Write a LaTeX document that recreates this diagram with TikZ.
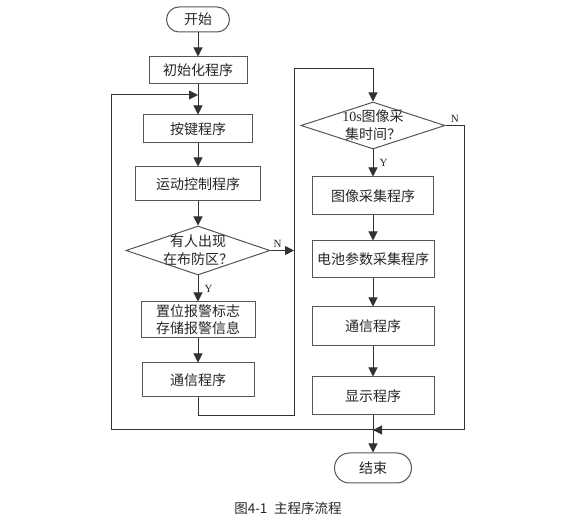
\documentclass[tikz,border=0pt]{standalone}
\usepackage{fontspec}
\setmainfont{Liberation Serif}
\newfontfamily\cjk{Noto Sans CJK SC}
\usetikzlibrary{arrows.meta,shapes.geometric}
\definecolor{boxgray}{RGB}{85,85,85}
\definecolor{linegray}{RGB}{50,50,50}

\begin{document}
\begin{tikzpicture}[x=10pt,y=10pt]
\tikzstyle{proc}=[rectangle,draw=boxgray,line width=1pt,inner sep=0pt,align=center,text=black!85,font=\cjk\fontsize{14}{17}\selectfont]
\tikzstyle{term}=[proc]
\tikzstyle{decision}=[diamond,draw=boxgray,line width=1pt,aspect=3,inner sep=-3pt,align=center,text=black!85,font=\cjk\fontsize{14}{18}\selectfont]
\tikzstyle{flow}=[-{Triangle[width=9pt,length=9pt]},line width=1pt,draw=linegray]
\tikzstyle{yn}=[font=\fontsize{11}{12}\selectfont,text=black!85,inner sep=2pt]
\useasboundingbox (0,0) rectangle (58.2,-52.9);

% left column
\node[term,minimum width=63pt,minimum height=25pt,rounded corners=12.5pt] (start) at (19.8,-1.95){开始};
\node[proc,minimum width=98pt,minimum height=27pt] (init) at (19.8,-7.05){初始化程序};
\node[proc,minimum width=109pt,minimum height=28pt] (keys) at (19.8,-12.9){按键程序};
\node[proc,minimum width=125pt,minimum height=34pt] (motion) at (19.8,-18.4){运动控制程序};
\node[decision,minimum width=144pt,minimum height=49pt] (dec_alarm) at (19.8,-25.05){有人出现\\在布防区？};
\node[proc,minimum width=114pt,minimum height=36pt] (alarm) at (19.8,-32.0){置位报警标志\\存储报警信息};
\node[proc,minimum width=112pt,minimum height=34pt] (comm_left) at (19.8,-38.0){通信程序};

% right column
\node[decision,minimum width=144pt,minimum height=47pt] (dec_image) at (37.3,-12.55){{\rmfamily 10s}图像采\\集时间？};
\node[proc,minimum width=121pt,minimum height=38pt] (image) at (37.3,-19.6){图像采集程序};
\node[proc,minimum width=122pt,minimum height=37pt] (battery) at (37.3,-25.95){电池参数采集程序};
\node[proc,minimum width=122pt,minimum height=39pt] (comm_right) at (37.3,-32.65){通信程序};
\node[proc,minimum width=122pt,minimum height=38pt] (display) at (37.3,-39.6){显示程序};
\node[term,minimum width=77pt,minimum height=30pt,rounded corners=15pt] (finish) at (37.3,-46.8){结束};

\node[font=\cjk\fontsize{13.5}{16}\selectfont,text=black!85] (caption) at (28.8,-50.8){图4-1\hspace{0.5em}主程序流程};

% turning points
\coordinate (loop_in) at (19.8,-9.5);
\coordinate (comm_turn) at (19.8,-41.6);
\coordinate (bus_low) at (29.4,-41.6);
\coordinate (bus_mid) at (29.4,-25.05);
\coordinate (bus_top) at (29.4,-6.9);
\coordinate (top_turn) at (37.3,-6.9);
\coordinate (n_top) at (46.4,-12.55);
\coordinate (n_low) at (46.4,-43.0);
\coordinate (junction) at (37.3,-43.0);
\coordinate (loop_bl) at (11.1,-43.0);
\coordinate (loop_tl) at (11.1,-9.5);

\draw[flow] (start) -- (init);
\draw[flow] (init) -- (keys);
\draw[flow] (keys) -- (motion);
\draw[flow] (motion) -- (dec_alarm);
\draw[flow] (dec_alarm) -- node[yn,anchor=west,xshift=4pt]{Y} (alarm);
\draw[flow] (dec_alarm.east) -- node[yn,pos=0.3,above]{N} (bus_mid);
\draw[flow] (alarm) -- (comm_left);
\draw[flow] (comm_left) -- (comm_turn) -- (bus_low) -- (bus_top) -- (top_turn) -- (dec_image);

\draw[flow] (dec_image) -- node[yn,anchor=west,xshift=4pt]{Y} (image);
\draw[flow] (image) -- (battery);
\draw[flow] (battery) -- (comm_right);
\draw[flow] (comm_right) -- (display);
\draw[flow] (display) -- (finish);
\draw[flow] (dec_image.east) -- node[yn,above]{N} (n_top) -- (n_low) -- (junction);
\draw[flow] (junction) -- (loop_bl) -- (loop_tl) -- (loop_in);

\end{tikzpicture}
\end{document}
